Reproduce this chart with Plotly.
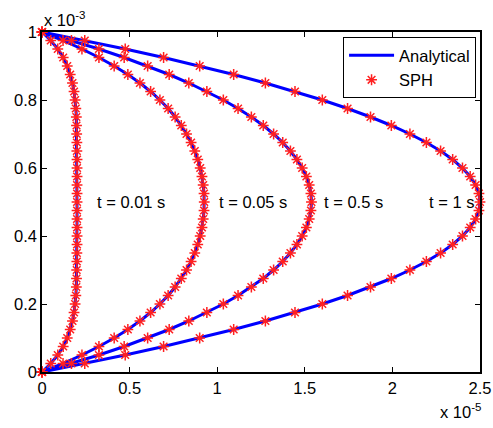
import plotly.graph_objects as go

# positions across the channel (units of 1e-3 m)
y_pos = [0.000, 0.025, 0.050, 0.075, 0.100, 0.125, 0.150, 0.175, 0.200, 0.225,
         0.250, 0.275, 0.300, 0.325, 0.350, 0.375, 0.400, 0.425, 0.450, 0.475,
         0.500, 0.525, 0.550, 0.575, 0.600, 0.625, 0.650, 0.675, 0.700, 0.725,
         0.750, 0.775, 0.800, 0.825, 0.850, 0.875, 0.900, 0.925, 0.950, 0.975, 1.000]

# velocities (units of 1e-5 m/s)
u_t001 = [0, 0.050, 0.090, 0.121, 0.144, 0.161, 0.174, 0.183, 0.189, 0.193,
          0.196, 0.197, 0.198, 0.199, 0.199, 0.200, 0.200, 0.200, 0.200, 0.200,
          0.200, 0.200, 0.200, 0.200, 0.200, 0.200, 0.199, 0.199, 0.198, 0.197,
          0.196, 0.193, 0.189, 0.183, 0.174, 0.161, 0.144, 0.121, 0.090, 0.050, 0]
u_t005 = [0, 0.120, 0.228, 0.325, 0.412, 0.490, 0.559, 0.620, 0.673, 0.720,
          0.760, 0.795, 0.825, 0.851, 0.872, 0.889, 0.903, 0.913, 0.920, 0.925,
          0.926, 0.925, 0.920, 0.913, 0.903, 0.889, 0.872, 0.851, 0.825, 0.795,
          0.760, 0.720, 0.673, 0.620, 0.559, 0.490, 0.412, 0.325, 0.228, 0.120, 0]
u_t05 = [0, 0.168, 0.325, 0.469, 0.603, 0.726, 0.838, 0.941, 1.035, 1.119,
         1.195, 1.263, 1.322, 1.374, 1.418, 1.455, 1.485, 1.509, 1.525, 1.535,
         1.538, 1.535, 1.525, 1.509, 1.485, 1.455, 1.418, 1.374, 1.322, 1.263,
         1.195, 1.119, 1.035, 0.941, 0.838, 0.726, 0.603, 0.469, 0.325, 0.168, 0]
u_t1 = [0, 0.244, 0.475, 0.694, 0.900, 1.094, 1.275, 1.444, 1.600, 1.744,
        1.875, 1.994, 2.100, 2.194, 2.275, 2.344, 2.400, 2.444, 2.475, 2.494,
        2.500, 2.494, 2.475, 2.444, 2.400, 2.344, 2.275, 2.194, 2.100, 1.994,
        1.875, 1.744, 1.600, 1.444, 1.275, 1.094, 0.900, 0.694, 0.475, 0.244, 0]

curves = [u_t001, u_t005, u_t05, u_t1]
labels = ["t = 0.01 s", "t = 0.05 s", "t = 0.5 s", "t = 1 s"]
label_x = [0.3, 1.0, 1.6, 2.2]
label_y = [0.5, 0.5, 0.5, 0.5]

x_ticks = [0, 0.5, 1, 1.5, 2, 2.5]
x_ticklabels = ["0", "0.5", "1", "1.5", "2", "2.5"]
y_ticks = [0, 0.2, 0.4, 0.6, 0.8, 1]
y_ticklabels = ["0", "0.2", "0.4", "0.6", "0.8", "1"]

FONT = "Liberation Sans, Arial, sans-serif"
FS = 16.5

fig = go.Figure()
for i, u in enumerate(curves):
    fig.add_trace(go.Scatter(
        x=u, y=y_pos, mode="lines", name="Analytical",
        line=dict(color="#0000ff", width=3),
        legendgroup="a", showlegend=(i == 0), cliponaxis=False))
for i, u in enumerate(curves):
    fig.add_trace(go.Scatter(
        x=u, y=y_pos, mode="markers", name="SPH",
        marker=dict(symbol="asterisk-open", size=9, color="#ff2020",
                    line=dict(color="#ff2020", width=1.5)),
        legendgroup="s", showlegend=(i == 0), cliponaxis=False))

for lx, ly, lt in zip(label_x, label_y, labels):
    fig.add_annotation(x=lx, y=ly, text=lt, showarrow=False, xanchor="left",
                       yanchor="middle", font=dict(size=FS, color="black", family=FONT))

fig.add_annotation(xref="paper", yref="paper", x=0, y=1, yshift=1,
                   text="x 10<sup>-3</sup>", showarrow=False, xanchor="left",
                   yanchor="bottom", font=dict(size=FS, color="black", family=FONT))
fig.add_annotation(xref="paper", yref="paper", x=1, y=0, yshift=-27, xshift=3,
                   text="x 10<sup>-5</sup>", showarrow=False, xanchor="right",
                   yanchor="top", font=dict(size=FS, color="black", family=FONT))

axis_common = dict(showgrid=False, zeroline=False, showline=True, linecolor="black",
                   linewidth=1.5, mirror="ticks", ticks="inside", ticklen=5,
                   tickcolor="black", tickwidth=1, automargin=False,
                   tickfont=dict(size=FS, color="black", family=FONT))
fig.update_xaxes(range=[0, 2.5], tickvals=x_ticks, ticktext=x_ticklabels, **axis_common)
fig.update_yaxes(range=[0, 1], tickvals=y_ticks, ticktext=y_ticklabels, **axis_common)

fig.update_layout(
    width=493, height=428,
    margin=dict(l=42, r=13, t=32, b=56, autoexpand=False),
    plot_bgcolor="white", paper_bgcolor="white",
    font=dict(family=FONT, size=FS, color="black"),
    legend=dict(x=0.991, y=0.985, xanchor="right", yanchor="top",
                bgcolor="white", bordercolor="black", borderwidth=1,
                font=dict(size=FS, color="black", family=FONT),
                tracegroupgap=0, itemwidth=45),
)

fig.write_html("out.html")
